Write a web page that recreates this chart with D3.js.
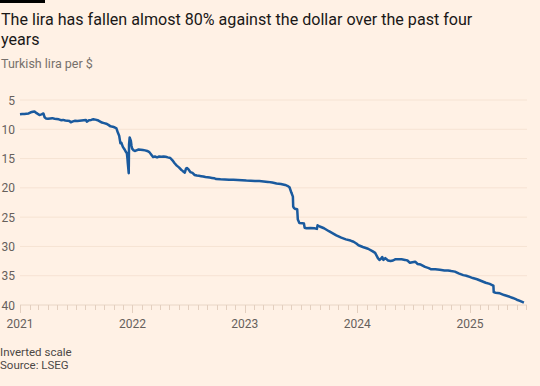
<!DOCTYPE html>
<html>
<head>
<meta charset="utf-8">
<script src="https://cdn.jsdelivr.net/npm/d3@7"></script>
<style>
  body { margin: 0; background: #FFF1E5; }
  svg { display: block; font-family: Roboto, "Liberation Sans", sans-serif; }
</style>
</head>
<body>
<svg id="chart" width="540" height="386"></svg>
<script>
// Turkish lira per US dollar
const dates = [
  '2021-01-01','2021-01-08','2021-01-15','2021-01-22','2021-01-29','2021-02-05','2021-02-12','2021-02-17','2021-02-24',
  '2021-03-05','2021-03-12','2021-03-18','2021-03-22','2021-03-26','2021-04-02','2021-04-09','2021-04-16','2021-04-23',
  '2021-04-30','2021-05-07','2021-05-14','2021-05-21','2021-05-28','2021-06-04','2021-06-11','2021-06-15','2021-06-22',
  '2021-06-29','2021-07-06','2021-07-13','2021-07-20','2021-07-27','2021-08-03','2021-08-06','2021-08-13','2021-08-20',
  '2021-08-27','2021-09-03','2021-09-10','2021-09-17','2021-09-24','2021-10-01','2021-10-08','2021-10-15','2021-10-22',
  '2021-10-29','2021-11-05','2021-11-10','2021-11-15','2021-11-19','2021-11-23','2021-11-26','2021-12-01','2021-12-06',
  '2021-12-10','2021-12-14','2021-12-16','2021-12-17','2021-12-20','2021-12-21','2021-12-23','2021-12-27','2021-12-29',
  '2021-12-31',
  '2022-01-05','2022-01-10','2022-01-14','2022-01-21','2022-01-28','2022-02-04','2022-02-11','2022-02-18','2022-02-25',
  '2022-03-04','2022-03-09','2022-03-15','2022-03-22','2022-03-29','2022-04-05','2022-04-12','2022-04-19','2022-04-26',
  '2022-05-04','2022-05-11','2022-05-18','2022-05-25','2022-06-01','2022-06-08','2022-06-13','2022-06-17','2022-06-20',
  '2022-06-24','2022-06-27','2022-07-01','2022-07-08','2022-07-15','2022-07-22','2022-07-29','2022-08-05','2022-08-12',
  '2022-08-19','2022-08-26','2022-09-02','2022-09-09','2022-09-16','2022-09-23','2022-09-30','2022-10-14','2022-10-28',
  '2022-11-11','2022-11-25','2022-12-09','2022-12-23',
  '2023-01-06','2023-01-20','2023-02-03','2023-02-17','2023-03-03','2023-03-17','2023-03-31','2023-04-14','2023-04-28',
  '2023-05-12','2023-05-19','2023-05-26','2023-06-01','2023-06-06','2023-06-07','2023-06-09','2023-06-13','2023-06-16',
  '2023-06-20','2023-06-22','2023-06-27','2023-07-07','2023-07-12','2023-07-14','2023-07-20','2023-08-01','2023-08-15',
  '2023-08-23','2023-08-25','2023-09-01','2023-09-15','2023-10-01','2023-10-15','2023-10-25','2023-11-10','2023-11-25',
  '2023-12-10','2023-12-20','2023-12-29',
  '2024-01-05','2024-01-19','2024-02-05','2024-02-19','2024-02-28','2024-03-08','2024-03-13','2024-03-18','2024-03-22',
  '2024-03-26','2024-04-01','2024-04-10','2024-04-18','2024-04-26','2024-05-03','2024-05-15','2024-05-24','2024-06-04',
  '2024-06-12','2024-06-20','2024-06-28','2024-07-07','2024-07-15','2024-07-25','2024-08-08','2024-08-20','2024-08-28',
  '2024-09-10','2024-09-25','2024-10-10','2024-10-22','2024-11-01','2024-11-13','2024-11-25','2024-12-10','2024-12-20',
  '2024-12-31',
  '2025-01-10','2025-01-24','2025-02-07','2025-02-21','2025-03-06','2025-03-14','2025-03-18','2025-03-19','2025-03-25',
  '2025-04-08','2025-04-22','2025-05-10','2025-05-20','2025-06-02','2025-06-12','2025-06-25'
];

const lira = [
  7.43, 7.38, 7.40, 7.35, 7.30, 7.10, 7.00, 6.95, 7.25,
  7.55, 7.45, 7.30, 7.95, 8.15, 8.20, 8.15, 8.10, 8.20,
  8.25, 8.30, 8.45, 8.40, 8.50, 8.55, 8.60, 8.80, 8.65,
  8.55, 8.60, 8.55, 8.50, 8.45, 8.40, 8.70, 8.45, 8.40,
  8.30, 8.35, 8.45, 8.65, 8.85, 8.95, 9.05, 9.25, 9.50,
  9.55, 9.70, 9.85, 10.60, 11.10, 12.40, 12.30, 13.00, 13.40,
  13.80, 14.10, 15.10, 15.80, 17.50, 12.60, 11.40, 12.00, 12.80,
  13.30,
  13.60, 13.70, 13.60, 13.45, 13.50, 13.55, 13.60, 13.70, 13.90,
  14.40, 14.75, 14.65, 14.80, 14.65, 14.70, 14.65, 14.70, 14.80,
  14.90, 15.30, 15.80, 16.20, 16.50, 16.90, 17.10, 17.30, 17.40,
  16.70, 16.60, 16.80, 17.30, 17.45, 17.80, 17.90, 17.95, 18.00,
  18.05, 18.15, 18.20, 18.25, 18.30, 18.35, 18.50, 18.55, 18.58,
  18.60, 18.62, 18.64, 18.70,
  18.75, 18.78, 18.82, 18.85, 18.90, 18.98, 19.10, 19.25, 19.35,
  19.50, 19.65, 19.90, 20.80, 21.50, 23.20, 23.40, 23.60, 23.60,
  23.65, 25.40, 26.00, 26.05, 26.10, 26.80, 26.90, 26.85, 26.90,
  27.00, 26.40, 26.60, 26.90, 27.40, 27.80, 28.10, 28.50, 28.80,
  29.00, 29.20, 29.50,
  29.80, 30.10, 30.40, 30.80, 31.10, 32.00, 32.30, 32.10, 31.80,
  32.30, 32.00, 32.40, 32.50, 32.40, 32.20, 32.20, 32.20, 32.30,
  32.40, 32.80, 32.70, 32.60, 33.00, 33.10, 33.50, 33.70, 33.90,
  33.90, 34.00, 34.10, 34.10, 34.20, 34.30, 34.60, 34.90, 35.00,
  35.20,
  35.40, 35.60, 35.90, 36.20, 36.40, 36.60, 36.70, 37.80, 37.90,
  38.00, 38.30, 38.60, 38.80, 39.10, 39.30, 39.60
];

const yTicks = [5, 10, 15, 20, 25, 30, 35, 40];
const xYears = ['2021', '2022', '2023', '2024', '2025'];

const title = ['The lira has fallen almost 80% against the dollar over the past four', 'years'];
const subtitle = 'Turkish lira per $';
const notes = ['Inverted scale', 'Source: LSEG'];

const parse = d3.timeParse('%Y-%m-%d');
const data = dates.map((d, i) => ({ date: parse(d), value: lira[i] }));

const svg = d3.select('#chart');
const plotLeft = 20, plotRight = 527, plotTop = 100, plotBottom = 305;

// FT-style black tab
svg.append('rect').attr('x', 0).attr('y', 0).attr('width', 45).attr('height', 3).attr('fill', '#000');

svg.append('text')
  .attr('x', 1).attr('y', 25)
  .attr('fill', '#1a1817')
  .style('font-size', '16.1px')
  .selectAll('tspan')
  .data(title)
  .enter()
  .append('tspan')
  .attr('x', 1)
  .attr('dy', (d, i) => i === 0 ? 0 : 20)
  .text(d => d);

svg.append('text')
  .attr('x', 1).attr('y', 68)
  .attr('fill', '#76706b')
  .style('font-size', '12.5px')
  .text(subtitle);

const x = d3.scaleTime()
  .domain([parse('2021-01-01'), parse('2025-01-01')])
  .range([plotLeft, 470]);

const y = d3.scaleLinear()
  .domain([5, 40])
  .range([plotTop, plotBottom]);

// gridlines
svg.append('g')
  .selectAll('line')
  .data(yTicks.slice(0, -1))
  .enter()
  .append('line')
  .attr('x1', plotLeft).attr('x2', plotRight)
  .attr('y1', d => y(d)).attr('y2', d => y(d))
  .attr('stroke', '#f6e3d3')
  .attr('stroke-width', 1);

// y labels
svg.append('g')
  .selectAll('text')
  .data(yTicks)
  .enter()
  .append('text')
  .attr('x', 15)
  .attr('y', d => y(d))
  .attr('dy', '0.38em')
  .attr('text-anchor', 'end')
  .attr('fill', '#66605c')
  .style('font-size', '12px')
  .text(d => d);

// x axis: monthly minor ticks, longer year ticks
const xEnd = x.invert(plotRight);
const months = d3.timeMonth.range(parse('2021-01-01'), xEnd);
const xAxis = svg.append('g');
xAxis.append('line')
  .attr('x1', plotLeft).attr('x2', plotRight)
  .attr('y1', plotBottom).attr('y2', plotBottom)
  .attr('stroke', '#e9d6c6');
xAxis.selectAll('line.tick')
  .data(months)
  .enter()
  .append('line')
  .attr('class', 'tick')
  .attr('x1', d => Math.round(x(d)) + 0.5).attr('x2', d => Math.round(x(d)) + 0.5)
  .attr('y1', plotBottom)
  .attr('y2', d => d.getMonth() === 0 ? plotBottom + 8 : plotBottom + 5)
  .attr('stroke', '#e3cfbf');
xAxis.selectAll('text')
  .data(xYears)
  .enter()
  .append('text')
  .attr('x', d => x(parse(d + '-01-01')))
  .attr('y', 328)
  .attr('text-anchor', 'middle')
  .attr('fill', '#66605c')
  .style('font-size', '12px')
  .text(d => d);

const line = d3.line()
  .x(d => x(d.date))
  .y(d => y(d.value));

svg.append('path')
  .datum(data)
  .attr('d', line)
  .attr('fill', 'none')
  .attr('stroke', '#1a5a9e')
  .attr('stroke-width', 2.5)
  .attr('stroke-linejoin', 'round');

svg.append('g')
  .selectAll('text')
  .data(notes)
  .enter()
  .append('text')
  .attr('x', 0)
  .attr('y', (d, i) => 356 + i * 13)
  .attr('fill', '#4d4845')
  .style('font-size', '11.5px')
  .text(d => d);
</script>
</body>
</html>
